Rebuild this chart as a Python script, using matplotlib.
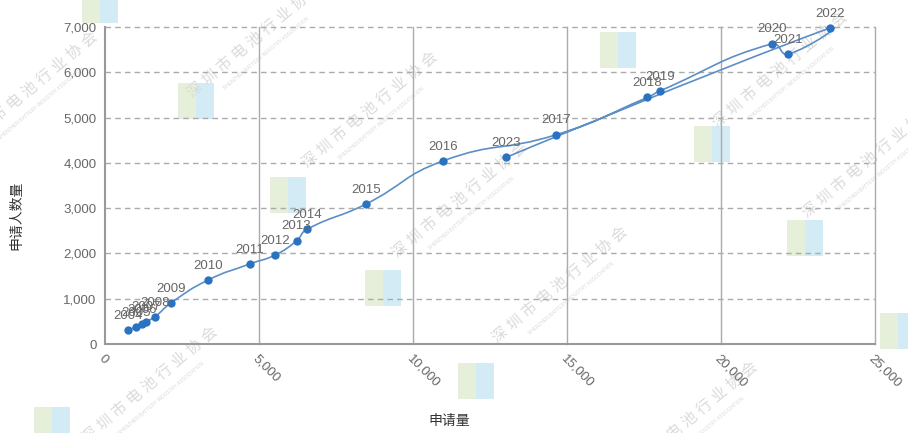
import numpy as np
import matplotlib
matplotlib.use('Agg')
import matplotlib.pyplot as plt
from matplotlib.path import Path
from matplotlib.patches import PathPatch, Rectangle

plt.rcParams['font.family'] = ['Liberation Sans', 'Noto Sans CJK SC', 'DejaVu Sans']

# data: 申请量 (x), 申请人数量 (y), by year
years = ['2004', '2005', '2006', '2007', '2008', '2009', '2010', '2011', '2012', '2013',
         '2014', '2015', '2016', '2017', '2018', '2019', '2020', '2021', '2022', '2023']
apps = [750, 1000, 1200, 1330, 1620, 2140, 3340, 4710, 5520, 6220,
        6550, 8470, 10980, 14640, 17610, 18020, 21650, 22170, 23540, 13020]
applicants = [310, 375, 440, 490, 600, 905, 1410, 1770, 1965, 2280,
              2530, 3090, 4045, 4620, 5445, 5590, 6630, 6400, 6980, 4120]

x_ticks = [0, 5000, 10000, 15000, 20000, 25000]
y_ticks = [0, 1000, 2000, 3000, 4000, 5000, 6000, 7000]

line_color = '#5b8fc6'
dot_color = '#2a72c2'
grid_color = '#ababab'
text_color = '#666666'
wm_color = '#dadada'

fig = plt.figure(figsize=(9.08, 4.33), dpi=100)
ax = fig.add_axes([0.1156, 0.2055, 0.8481, 0.7321])
ax.set_zorder(2)
ax.patch.set_alpha(0)
ax.set_xlim(0, 25000)
ax.set_ylim(0, 7000)

# watermark (background)
wm_texts = [(255, 40), (370, 110), (460, 200), (560, 285), (780, 70),
            (870, 160), (150, 385), (690, 420), (30, 90)]
for px, py in wm_texts:
    fx, fy = px / 908, 1 - py / 433
    fig.text(fx, fy, '深 圳 市 电 池 行 业 协 会', fontsize=11, color=wm_color, rotation=40,
             ha='center', va='center', zorder=0, rotation_mode='anchor')
    fig.text(fx + 0.012, fy - 0.032, 'SHENZHEN BATTERY INDUSTRY ASSOCIATION', fontsize=3.5,
             color=wm_color, rotation=40, ha='center', va='center', zorder=0,
             rotation_mode='anchor')
logos = [(100, 5), (196, 101), (288, 195), (383, 288), (476, 381),
         (618, 50), (712, 144), (805, 238), (898, 331), (52, 425)]
for px, py in logos:
    w, h = 36 / 908, 36 / 433
    fx, fy = px / 908 - w / 2, 1 - py / 433 - h / 2
    fig.patches.append(Rectangle((fx, fy), w / 2, h, transform=fig.transFigure,
                                 color='#e6efd9', zorder=0, lw=0))
    fig.patches.append(Rectangle((fx + w / 2, fy), w / 2, h, transform=fig.transFigure,
                                 color='#d3ebf5', zorder=0, lw=0))

# grid
for xv in x_ticks[1:]:
    ax.axvline(xv, color=grid_color, lw=1, zorder=1, clip_on=False)
for yv in y_ticks[1:]:
    ax.axhline(yv, color=grid_color, lw=1, ls=(0, (4, 3)), zorder=1, clip_on=False)

# smooth line (echarts-like bezier, computed in pixel space)
sx, sy = 769 / 25000, 317 / 7000
pts = np.column_stack([np.array(apps) * sx, np.array(applicants) * sy])
smooth = 0.5
cps = []
for i in range(len(pts)):
    p = pts[i]
    if i == 0 or i == len(pts) - 1:
        cps.append((p, p))
        continue
    prev, nxt = pts[i - 1], pts[i + 1]
    v = (nxt - prev) * smooth
    d0 = np.hypot(*(p - prev))
    d1 = np.hypot(*(nxt - p))
    t = d0 / (d0 + d1)
    cps.append((p - v * t, p + v * (1 - t)))
verts = [pts[0]]
codes = [Path.MOVETO]
for i in range(len(pts) - 1):
    verts += [cps[i][1], cps[i + 1][0], pts[i + 1]]
    codes += [Path.CURVE4] * 3
verts = np.array(verts) / np.array([sx, sy])
ax.add_patch(PathPatch(Path(verts, codes), fc='none', ec=line_color, lw=1.2, zorder=3))

ax.scatter(apps, applicants, s=36, color=dot_color, zorder=4, lw=0, clip_on=False)
for yr, xv, yv in zip(years, apps, applicants):
    ax.annotate(yr, (xv, yv), xytext=(0, 6), textcoords='offset points', ha='center',
                va='bottom', fontsize=9.5, color=text_color, zorder=5)

for s in ['top', 'right']:
    ax.spines[s].set_visible(False)
for s in ['left', 'bottom']:
    ax.spines[s].set_color('#999999')
    ax.spines[s].set_linewidth(1.5)

ax.set_xticks(x_ticks)
ax.set_yticks(y_ticks)
ax.set_xticklabels(['{:,}'.format(v) for v in x_ticks], rotation=-45, ha='left',
                   va='top', rotation_mode='anchor')
ax.set_yticklabels(['{:,}'.format(v) for v in y_ticks])
ax.tick_params(length=0, labelsize=9.5, labelcolor=text_color, pad=6)

fig.text(449 / 908, 1 - 421 / 433, '申请量', fontsize=10, color='#333333',
         ha='center', va='center')
fig.text(16 / 908, 1 - 215 / 433, '申请人数量', fontsize=10, color='#333333',
         ha='center', va='center', rotation=90)

fig.savefig('out.png', dpi=100)
